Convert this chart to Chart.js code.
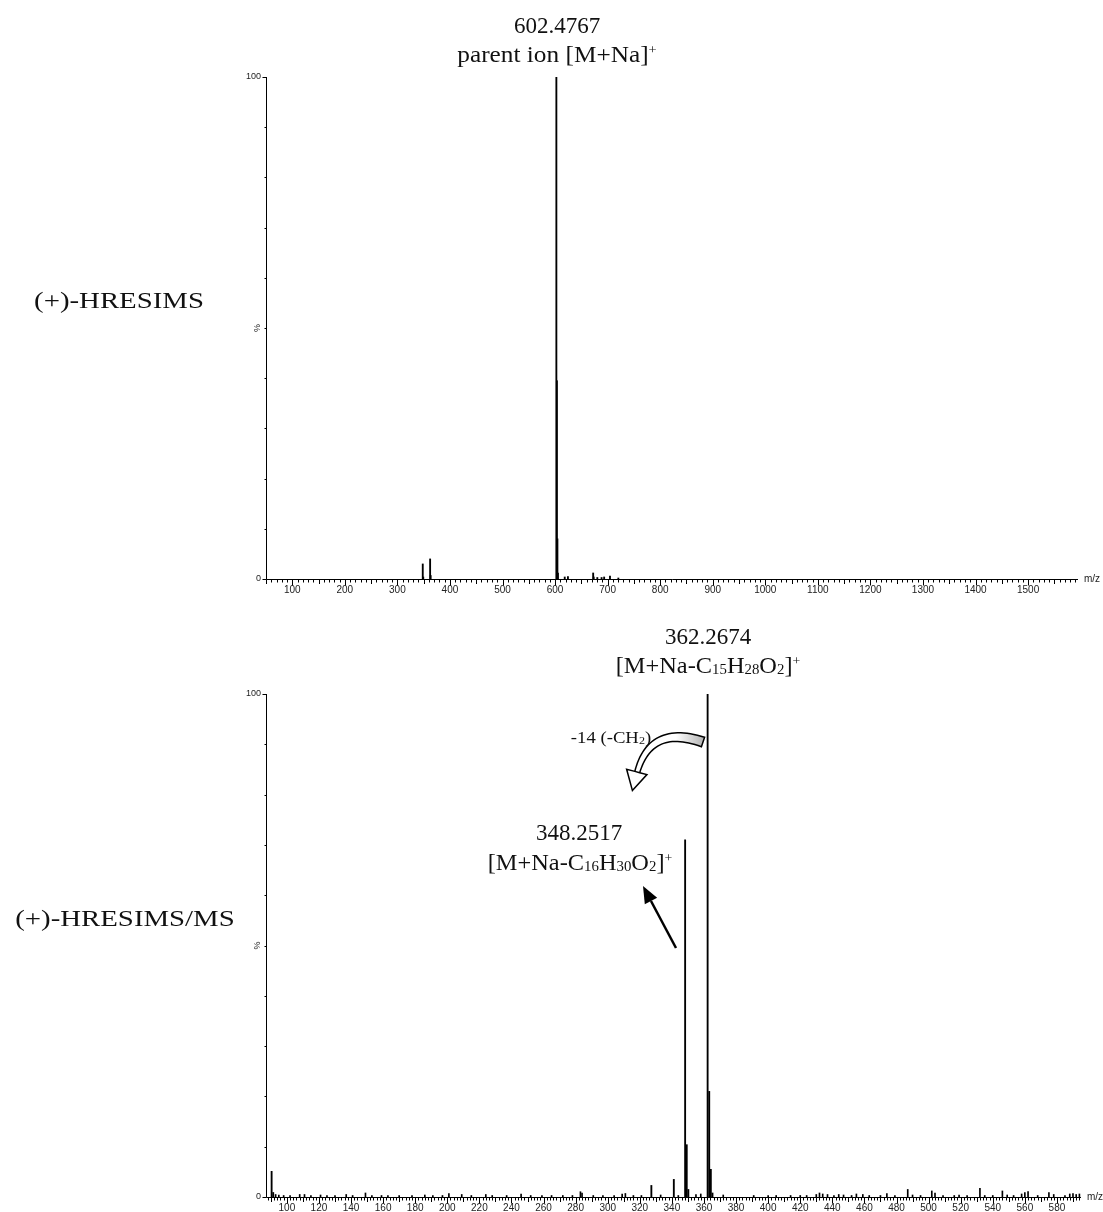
<!DOCTYPE html>
<html><head><meta charset="utf-8">
<script src="https://cdn.jsdelivr.net/npm/chart.js@4.4.0/dist/chart.umd.min.js"></script>
<style>
body{margin:0;background:#fff;width:1103px;height:1212px;position:relative;overflow:hidden;font-family:"Liberation Serif",serif;}
canvas{position:absolute;left:0;}
.t{position:absolute;white-space:nowrap;color:#111;font-size:23px;line-height:1;transform-origin:50% 50%;}
.s{font-size:14px;vertical-align:-1px;}
.p{font-size:13px;vertical-align:8px;}
</style></head>
<body>
<canvas id="c1" width="1103" height="600" style="top:0"></canvas>
<canvas id="c2" width="1103" height="612" style="top:600px"></canvas>

<div class="t" style="left:557px;top:25px;transform:translate(-50%,-50%)">602.4767</div>
<div class="t" style="left:557px;top:54px;transform:translate(-50%,-50%) scaleX(1.1)">parent ion [M+Na]<span class="p">+</span></div>

<div class="t" style="left:708px;top:636px;transform:translate(-50%,-50%)">362.2674</div>
<div class="t" style="left:708px;top:665px;transform:translate(-50%,-50%) scaleX(1.06)">[M+Na-C<span class="s">15</span>H<span class="s">28</span>O<span class="s">2</span>]<span class="p">+</span></div>

<div class="t" style="left:611px;top:737px;font-size:17px;transform:translate(-50%,-50%) scaleX(1.1)">-14 (-CH<span class="s" style="font-size:11px">2</span>)</div>

<div class="t" style="left:579px;top:832px;transform:translate(-50%,-50%)">348.2517</div>
<div class="t" style="left:580px;top:862px;transform:translate(-50%,-50%) scaleX(1.06)">[M+Na-C<span class="s">16</span>H<span class="s">30</span>O<span class="s">2</span>]<span class="p">+</span></div>

<div class="t" style="left:119px;top:300px;font-size:24px;transform:translate(-50%,-50%) scaleX(1.2)">(+)-HRESIMS</div>
<div class="t" style="left:125px;top:918px;font-size:24px;transform:translate(-50%,-50%) scaleX(1.2)">(+)-HRESIMS/MS</div>

<script>
// ---------- data ----------
const topMz  = [348.25, 349.2, 362.27, 363.27, 602.48, 603.48, 604.48, 605.49, 618.4, 624.5, 672.5, 673.5, 680.4, 688.5, 693.4, 704.5, 720.4];
const topInt = [3.0,    0.4,   4.0,    0.7,    100,    39.5,   8.0,    1.2,    0.4,   0.5,   1.2,   0.4,   0.3,   0.3,   0.4,   0.6,   0.2];

const botMz  = [90.5, 91.5, 327.2, 341.2, 348.25, 349.25, 350.25, 362.27, 363.27, 364.27, 365.3];
const botInt = [5.1,  0.9,  2.3,   3.5,   71,     10.4,   1.5,    100,    21,     5.5,    0.8];

const noiseMz  = [93, 95, 98, 102, 108, 111, 115, 121, 125, 130, 137, 141, 149, 153, 159, 163, 170, 178, 186, 191, 197, 201, 209, 215, 224, 228, 237, 246, 252, 259, 265, 272, 278, 283, 284, 291, 297, 304, 309, 311, 316, 321, 333, 344, 355, 358, 372, 391, 400, 405, 414, 420, 424, 430, 432, 434, 437, 441, 444, 447, 452, 455, 459, 463, 470, 474, 479, 487, 490, 495, 502, 504, 509, 516, 519, 524, 532, 535, 540, 546, 549, 553, 558, 560, 562, 568, 575, 578, 585, 588, 590, 592, 594];
const noiseInt = [0.5, 0.4, 0.3, 0.3, 0.5, 0.5, 0.3, 0.4, 0.3, 0.3, 0.5, 0.3, 0.8, 0.3, 0.3, 0.3, 0.3, 0.3, 0.4, 0.3, 0.3, 0.7, 0.5, 0.3, 0.5, 0.3, 0.3, 0.6, 0.3, 0.3, 0.3, 0.3, 0.3, 1.05, 0.8, 0.3, 0.3, 0.3, 0.6, 0.7, 0.3, 0.3, 0.4, 0.3, 0.5, 0.6, 0.4, 0.3, 0.3, 0.3, 0.3, 0.3, 0.3, 0.5, 0.8, 0.6, 0.5, 0.3, 0.5, 0.4, 0.3, 0.6, 0.5, 0.3, 0.3, 0.7, 0.3, 1.5, 0.4, 0.3, 1.2, 0.8, 0.3, 0.3, 0.4, 0.3, 1.7, 0.3, 0.3, 1.2, 0.4, 0.3, 0.6, 0.9, 1.1, 0.3, 0.9, 0.5, 0.3, 0.6, 0.7, 0.5, 0.6];

const topRange = [50, 1595];
const botRange = [87, 595];
const topTickLabels = [100, 200, 300, 400, 500, 600, 700, 800, 900, 1000, 1100, 1200, 1300, 1400, 1500];
const botTickLabels = [100, 120, 140, 160, 180, 200, 220, 240, 260, 280, 300, 320, 340, 360, 380, 400, 420, 440, 460, 480, 500, 520, 540, 560, 580];
const yTickValues = [0, 100];

// ---------- helpers ----------
const pts = (xs, ys) => xs.map((x, i) => ({x, y: ys[i]}));

const axisDeco = {
  id: 'axisDeco',
  afterDatasetsDraw(chart, args, opts) {
    const {ctx, chartArea: a, scales: {x, y}} = chart;
    ctx.save();
    ctx.strokeStyle = '#000';
    ctx.lineWidth = 1;
    ctx.beginPath();
    ctx.moveTo(a.left + 0.5, a.top);
    ctx.lineTo(a.left + 0.5, a.bottom + 0.5);
    ctx.lineTo(a.right, a.bottom + 0.5);
    ctx.stroke();
    const [minor, mid, major] = opts.steps;
    ctx.beginPath();
    for (let i = Math.ceil(x.min / minor); i * minor <= x.max; i++) {
      const v = i * minor;
      const px = Math.round(x.getPixelForValue(v)) + 0.5;
      let len = 3;
      if (v % major === 0) len = 6; else if (v % mid === 0) len = 4.5;
      ctx.moveTo(px, a.bottom + 0.5);
      ctx.lineTo(px, a.bottom + 0.5 + len);
    }
    for (let v = 0; v <= 100; v += 10) {
      const py = Math.round(y.getPixelForValue(v)) + 0.5;
      const len = (v === 0 || v === 100) ? 4 : 2;
      ctx.moveTo(a.left + 0.5, py);
      ctx.lineTo(a.left + 0.5 - len, py);
    }
    ctx.stroke();
    ctx.fillStyle = '#222';
    ctx.font = '10px "Liberation Sans", Arial, sans-serif';
    ctx.textBaseline = 'middle';
    ctx.textAlign = 'left';
    ctx.fillText('m/z', a.right + 6, a.bottom);
    ctx.save();
    ctx.translate(a.left - 8, y.getPixelForValue(50));
    ctx.rotate(-Math.PI / 2);
    ctx.textAlign = 'center';
    ctx.font = '9px "Liberation Sans", Arial, sans-serif';
    ctx.fillText('%', 0, 0);
    ctx.restore();
    ctx.restore();
  }
};

function makeChart(id, datasets, range, tickLabels, steps, padding, xHeight, extra) {
  return new Chart(document.getElementById(id), {
    type: 'bar',
    data: {datasets},
    options: {
      responsive: false,
      animation: false,
      devicePixelRatio: 1,
      layout: {padding},
      plugins: {legend: {display: false}, tooltip: {enabled: false}, axisDeco: {steps}},
      scales: {
        x: {
          type: 'linear', min: range[0], max: range[1], offset: false,
          grid: {display: false, drawTicks: false, offset: false}, border: {display: false},
          afterBuildTicks: s => { s.ticks = tickLabels.map(value => ({value})); },
          afterFit: s => { s.height = xHeight; },
          ticks: {
            autoSkip: false, maxRotation: 0, padding: 5,
            color: '#222', font: {family: '"Liberation Sans", Arial, sans-serif', size: 10},
            callback: v => String(v)
          }
        },
        y: {
          min: 0, max: 100,
          grid: {display: false, drawTicks: false}, border: {display: false},
          afterBuildTicks: s => { s.ticks = yTickValues.map(value => ({value})); },
          afterFit: s => { s.width = 36; },
          ticks: {
            padding: 5, color: '#222',
            font: {family: '"Liberation Sans", Arial, sans-serif', size: 9}
          }
        }
      }
    },
    plugins: [axisDeco].concat(extra || [])
  });
}

// arrows for the MS/MS panel
const arrows = {
  id: 'arrows',
  afterDatasetsDraw(chart) {
    const ctx = chart.ctx;
    const oy = 600; // canvas offset on page
    ctx.save();
    // straight arrow
    const tail = [676, 948 - oy], tip = [643, 886 - oy];
    const dx = tip[0] - tail[0], dy = tip[1] - tail[1];
    const L = Math.hypot(dx, dy), ux = dx / L, uy = dy / L;
    const hl = 17, hw = 7;
    const bx = tip[0] - ux * hl, by = tip[1] - uy * hl;
    ctx.strokeStyle = '#000'; ctx.fillStyle = '#000';
    ctx.lineWidth = 2.5;
    ctx.beginPath(); ctx.moveTo(tail[0], tail[1]); ctx.lineTo(bx, by); ctx.stroke();
    ctx.beginPath();
    ctx.moveTo(tip[0], tip[1]);
    ctx.lineTo(bx - uy * hw, by + ux * hw);
    ctx.lineTo(bx + uy * hw, by - ux * hw);
    ctx.closePath(); ctx.fill();

    // curved hollow arrow (quadratic centre line)
    const P0 = [703, 742 - oy], C = [650, 724 - oy], P2 = [637, 773 - oy];
    const N = 30, outer = [], inner = [];
    for (let i = 0; i <= N; i++) {
      const t = i / N;
      const x = (1 - t) * (1 - t) * P0[0] + 2 * (1 - t) * t * C[0] + t * t * P2[0];
      const y = (1 - t) * (1 - t) * P0[1] + 2 * (1 - t) * t * C[1] + t * t * P2[1];
      const tx = 2 * (1 - t) * (C[0] - P0[0]) + 2 * t * (P2[0] - C[0]);
      const ty = 2 * (1 - t) * (C[1] - P0[1]) + 2 * t * (P2[1] - C[1]);
      const tl = Math.hypot(tx, ty);
      const nx = -ty / tl, ny = tx / tl;
      const w = 5 - 2.5 * t;
      outer.push([x + nx * w, y + ny * w]);
      inner.push([x - nx * w, y - ny * w]);
    }
    const grad = ctx.createLinearGradient(640, 0, 705, 0);
    grad.addColorStop(0, '#ffffff');
    grad.addColorStop(0.55, '#ffffff');
    grad.addColorStop(1, '#b0b0b0');
    ctx.beginPath();
    outer.forEach((p, i) => i ? ctx.lineTo(p[0], p[1]) : ctx.moveTo(p[0], p[1]));
    for (let i = inner.length - 1; i >= 0; i--) ctx.lineTo(inner[i][0], inner[i][1]);
    ctx.closePath();
    ctx.fillStyle = grad; ctx.fill();
    ctx.lineWidth = 1.5; ctx.strokeStyle = '#000'; ctx.stroke();
    // head
    const ex = P2[0] - C[0], ey = P2[1] - C[1], el = Math.hypot(ex, ey);
    const vx = ex / el, vy = ey / el;
    const htip = [P2[0] + vx * 18, P2[1] + vy * 18];
    const hb = [P2[0] - vx * 1, P2[1] - vy * 1];
    ctx.beginPath();
    ctx.moveTo(htip[0], htip[1]);
    ctx.lineTo(hb[0] - vy * 11, hb[1] + vx * 11);
    ctx.lineTo(hb[0] - vy * 2.5, hb[1] + vx * 2.5);
    ctx.lineTo(hb[0] + vy * 2.5, hb[1] - vx * 2.5);
    ctx.lineTo(hb[0] + vy * 10, hb[1] - vx * 10);
    ctx.closePath();
    ctx.fillStyle = '#fff'; ctx.fill();
    ctx.lineWidth = 1.5; ctx.stroke();
    ctx.restore();
  }
};

const barStyle = (data, w) => ({data, backgroundColor: '#000', borderWidth: 0, barThickness: w, grouped: false});

makeChart('c1', [barStyle(pts(topMz, topInt), 1.2)], topRange, topTickLabels, [10, 50, 100],
  {top: 77, right: 25, left: 230, bottom: 0}, 21);

makeChart('c2', [barStyle(pts(botMz, botInt), 1.2), barStyle(pts(noiseMz, noiseInt), 1)], botRange, botTickLabels, [2, 10, 20],
  {top: 94, right: 22, left: 230, bottom: 0}, 15, [arrows]);
</script>
</body></html>
